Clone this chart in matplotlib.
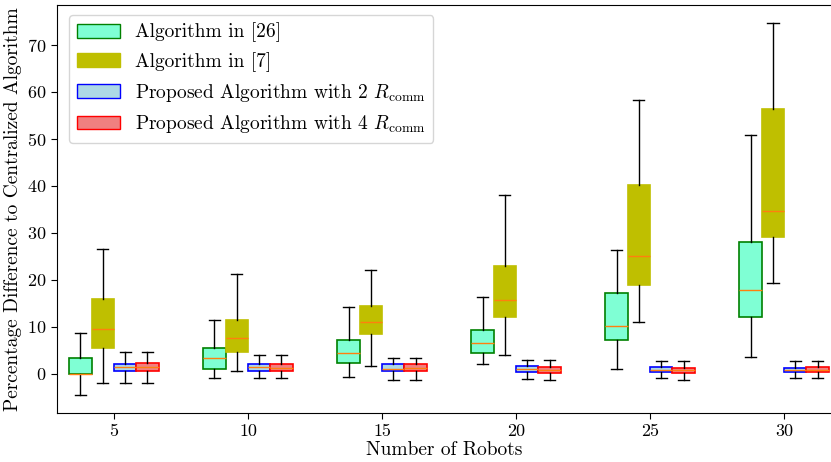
import numpy as np
import matplotlib
matplotlib.use('Agg')
import matplotlib.pyplot as plt
from matplotlib.patches import Patch

plt.rcParams['font.family'] = 'serif'
plt.rcParams['font.serif'] = ['cmr10']
plt.rcParams['mathtext.fontset'] = 'cm'
plt.rcParams['axes.formatter.use_mathtext'] = True

robots = [5, 10, 15, 20, 25, 30]

# box stats per method: whisker low, q1, median, q3, whisker high
alg26_lo = [-4.5, -0.9, -0.6, 2.1, 1.1, 3.6]
alg26_q1 = [0.0, 1.0, 2.3, 4.4, 7.3, 12.1]
alg26_med = [0.0, 3.3, 4.5, 6.5, 10.3, 17.9]
alg26_q3 = [3.5, 5.5, 7.2, 9.3, 17.3, 28.0]
alg26_hi = [8.7, 11.5, 14.3, 16.3, 26.3, 50.9]

alg7_lo = [-2.0, 0.6, 1.6, 4.0, 11.0, 19.3]
alg7_q1 = [5.6, 4.7, 8.6, 12.1, 18.9, 29.1]
alg7_med = [9.5, 7.6, 11.0, 15.7, 25.2, 34.7]
alg7_q3 = [16.0, 11.5, 14.4, 22.9, 40.2, 56.4]
alg7_hi = [26.6, 21.2, 22.1, 38.0, 58.2, 74.7]

prop2_lo = [-2.0, -0.8, -1.2, -1.0, -0.85, -0.85]
prop2_q1 = [0.6, 0.7, 0.6, 0.4, 0.4, 0.4]
prop2_med = [1.4, 1.4, 1.1, 1.0, 0.9, 0.9]
prop2_q3 = [2.2, 2.1, 2.1, 1.6, 1.4, 1.3]
prop2_hi = [4.7, 4.0, 3.5, 3.0, 2.7, 2.7]

prop4_lo = [-2.0, -0.8, -1.3, -1.3, -1.3, -0.85]
prop4_q1 = [0.6, 0.6, 0.6, 0.3, 0.15, 0.4]
prop4_med = [1.4, 1.3, 1.2, 0.95, 0.85, 0.9]
prop4_q3 = [2.3, 2.1, 2.1, 1.5, 1.3, 1.4]
prop4_hi = [4.7, 4.1, 3.4, 3.0, 2.8, 2.7]

methods = [
    ('Algorithm in [26]', (alg26_lo, alg26_q1, alg26_med, alg26_q3, alg26_hi), 'aquamarine', 'green'),
    ('Algorithm in [7]', (alg7_lo, alg7_q1, alg7_med, alg7_q3, alg7_hi), 'y', 'y'),
    (r'Proposed Algorithm with 2 $R_{\mathrm{comm}}$', (prop2_lo, prop2_q1, prop2_med, prop2_q3, prop2_hi), 'lightblue', 'blue'),
    (r'Proposed Algorithm with 4 $R_{\mathrm{comm}}$', (prop4_lo, prop4_q1, prop4_med, prop4_q3, prop4_hi), 'lightcoral', 'red'),
]
offsets = [-0.25, -0.0833, 0.0833, 0.25]
width = 0.167

fig = plt.figure(figsize=(8.31, 4.62), dpi=100)
ax = fig.add_axes([57/831, 49/462, 1 - 57/831, 408/462])

base = np.arange(1, len(robots) + 1)
handles = []
for (label, st, face, edge), off in zip(methods, offsets):
    lo, q1, med, q3, hi = st
    stats = [dict(whislo=lo[i], q1=q1[i], med=med[i], q3=q3[i], whishi=hi[i], fliers=[])
             for i in range(len(robots))]
    ax.bxp(stats, positions=base + off, widths=width, patch_artist=True, showfliers=False,
           boxprops=dict(facecolor=face, edgecolor=edge, linewidth=1.2),
           medianprops=dict(color='#ff7f0e', linewidth=1),
           whiskerprops=dict(color='black', linewidth=1),
           capprops=dict(color='black', linewidth=1), manage_ticks=False)
    handles.append(Patch(facecolor=face, edgecolor=edge, label=label))

ax.set_xticks(base)
ax.set_xticklabels([str(r) for r in robots])
ax.set_xlim(0.575, 6.35)
ax.set_ylim(-8.3, 78.5)
ax.set_yticks(np.arange(0, 80, 10))
ax.tick_params(labelsize=13, length=4)
ax.spines['right'].set_visible(False)
ax.set_xlabel('Number of Robots', fontsize=14, labelpad=2)
ax.set_ylabel('Percentage Difference to Centralized Algorithm', fontsize=14, labelpad=4)
ax.legend(handles=handles, loc='upper left', fontsize=14, handlelength=2.2,
          bbox_to_anchor=(0.008, 0.99), borderaxespad=0.3)

plt.savefig('out.png', format='png')
